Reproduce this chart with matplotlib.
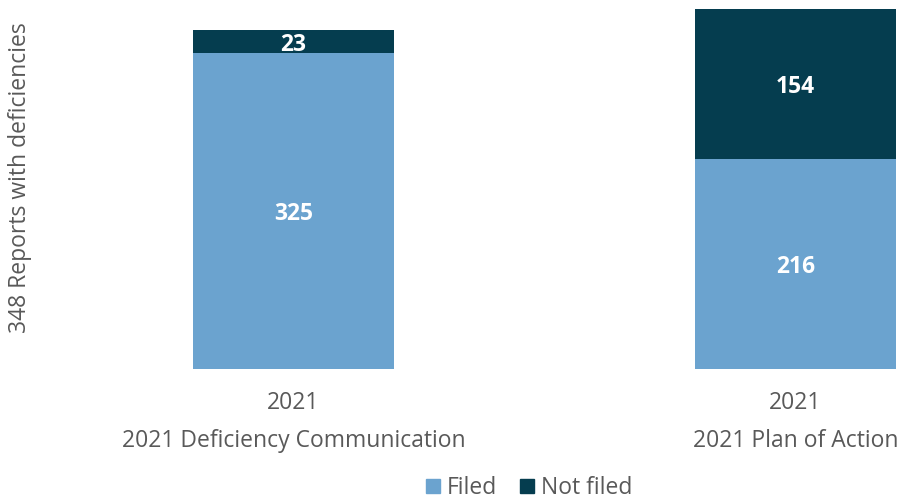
import matplotlib
matplotlib.use("Agg")
import matplotlib.pyplot as plt
from matplotlib.lines import Line2D

plt.rcParams['font.family'] = ['Open Sans', 'DejaVu Sans']

years = ["2021", "2021"]
categories = ["2021 Deficiency Communication", "2021 Plan of Action"]
filed = [325, 216]
not_filed = [23, 154]

BLUE = '#6ba3cf'
DARK = '#053d4f'
GREY = '#595959'

fig = plt.figure(figsize=(9.03, 4.99), dpi=100)
ax = fig.add_axes([60 / 903, 130 / 499, 843 / 903, 360 / 499])

x = list(range(len(categories)))
ax.bar(x, filed, width=0.4, color=BLUE, label='Filed')
ax.bar(x, not_filed, width=0.4, bottom=filed, color=DARK, label='Not filed')

for i in x:
    ax.text(i, filed[i] / 2, str(filed[i]), ha='center', va='center_baseline',
            color='white', fontsize=16.5, fontweight='bold')
    ax.text(i, filed[i] + not_filed[i] / 2, str(not_filed[i]), ha='center',
            va='center_baseline', color='white', fontsize=16.5, fontweight='bold')

ax.set_xlim(-0.465, 1.214)
ax.set_ylim(0, 370)
ax.set_xticks(x)
ax.set_xticklabels([y + "\n" + c for y, c in zip(years, categories)],
                   fontsize=16.5, color=GREY, linespacing=1.75)
ax.tick_params(axis='x', length=0, pad=16)
ax.set_yticks([])
for s in ax.spines.values():
    s.set_visible(False)

fig.text(20 / 903, 1 - 178 / 499, "348 Reports with deficiencies", rotation=90,
         ha='center', va='center', fontsize=16.5, color=GREY)

handles = [Line2D([], [], marker='s', linestyle='', color=BLUE, markersize=10),
           Line2D([], [], marker='s', linestyle='', color=DARK, markersize=10)]
fig.legend(handles, ['Filed', 'Not filed'], loc='center', bbox_to_anchor=(527 / 903, 1 - 488 / 499),
           ncol=2, frameon=False, fontsize=16.5, labelcolor=GREY, handletextpad=0.1,
           columnspacing=0.8, handlelength=1.0)

fig.savefig("out.png", dpi=100)
